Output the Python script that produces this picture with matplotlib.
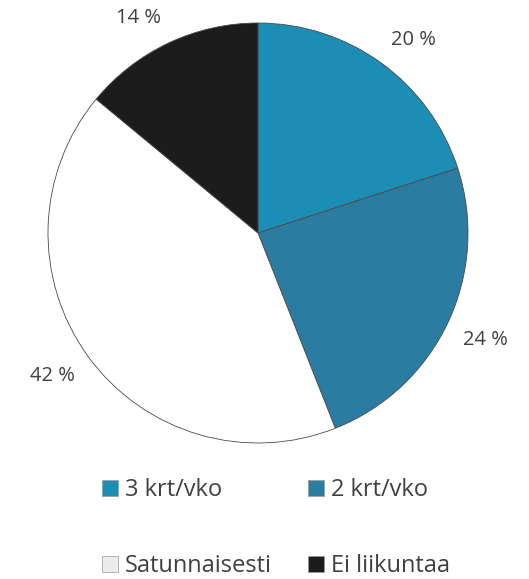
import numpy as np
import matplotlib.pyplot as plt
from matplotlib.patches import Patch

plt.rcParams['font.family'] = ['Open Sans', 'DejaVu Sans']

# data
categories = ['3 krt/vko', '2 krt/vko', 'Satunnaisesti', 'Ei liikuntaa']
values = [20, 24, 42, 14]
colors = ['#1c8eb5', '#2a7ca1', '#ffffff', '#1c1c1c']
legend_colors = ['#1c8eb5', '#2a7ca1', '#ececec', '#1c1c1c']

fig = plt.figure(figsize=(5.29, 5.79), dpi=100)
# axes placed so the pie sits where it does in the original
ax = fig.add_axes([(258 - 210) / 529, 1 - (233 + 210) / 579, 420 / 529, 420 / 579])

wedges, texts, autotexts = ax.pie(
    values, colors=colors, startangle=90, counterclock=False,
    autopct=lambda p: f'{p:.0f} %',
    wedgeprops=dict(edgecolor='#4a4a4a', linewidth=0.6),
    textprops=dict(fontsize=14.5, color='#404040'))

# put labels just outside the rim, aligned away from the pie (like Excel)
for w, t in zip(wedges, autotexts):
    mid = np.deg2rad((w.theta1 + w.theta2) / 2)
    cx, cy = np.cos(mid), np.sin(mid)
    t.set_position((1.08 * cx, 1.08 * cy))
    t.set_ha('left' if cx > 0 else 'right')
    t.set_va('bottom' if cy > 0 else 'top')

ax.set_aspect('equal')
ax.set_xlim(-1, 1)
ax.set_ylim(-1, 1)
ax.axis('off')

# legend in two rows: row 1 = first two, row 2 = last two
handles = [Patch(facecolor=c, edgecolor='#9a9a9a', linewidth=0.5) for c in legend_colors]
order = [0, 2, 1, 3]
fig.legend([handles[i] for i in order], [categories[i] for i in order],
           ncol=2, loc='upper left', bbox_to_anchor=(102 / 529, 1 - 478 / 579),
           frameon=False, fontsize=17, labelcolor='#404040',
           handlelength=0.68, handleheight=0.68, handletextpad=0.3,
           labelspacing=2.2, columnspacing=1.5, borderaxespad=0, borderpad=0)

fig.savefig('out.png', dpi=100)
